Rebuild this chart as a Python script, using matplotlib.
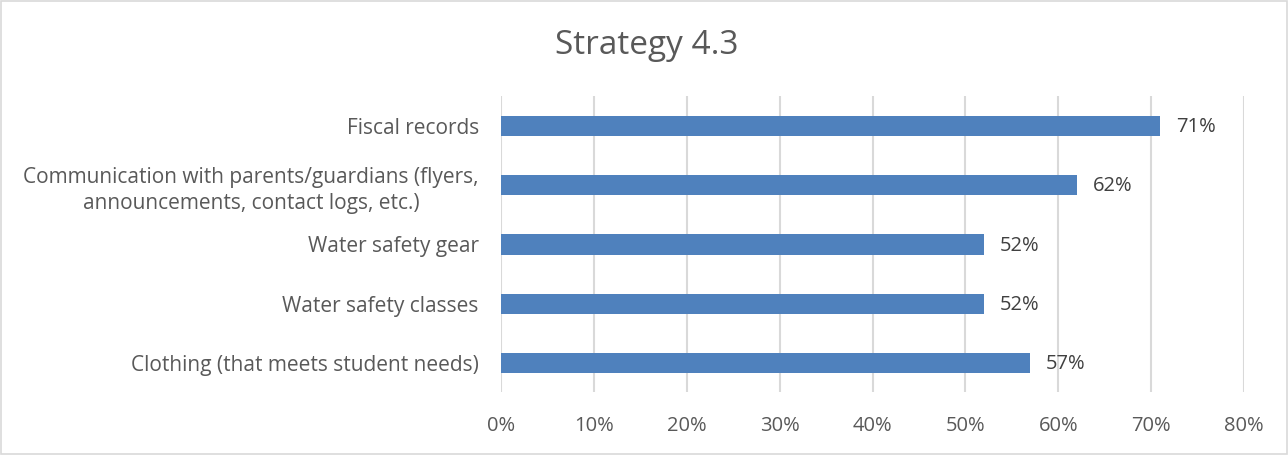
import numpy as np
import matplotlib.pyplot as plt
from matplotlib.patches import Rectangle

plt.rcParams['font.family'] = ['Open Sans', 'DejaVu Sans']

# data (top to bottom as shown)
categories = ['Fiscal records',
              'Communication with parents/guardians (flyers,\nannouncements, contact logs, etc.)',
              'Water safety gear',
              'Water safety classes',
              'Clothing (that meets student needs)']
values = [71, 62, 52, 52, 57]
xticks = [0, 10, 20, 30, 40, 50, 60, 70, 80]

txt = '#595959'
grid = '#D9D9D9'
bar_col = '#4F81BD'

fig = plt.figure(figsize=(12.88, 4.55), dpi=100)
ax = fig.add_axes([0.389, 0.1374, 0.5769, 0.6506])

y = np.arange(len(categories))[::-1]
ax.barh(y, values, height=0.34, color=bar_col, zorder=3)

for yi, v in zip(y, values):
    ax.text(v + 1.7, yi - 0.02, f'{v}%', va='center', ha='left',
            fontsize=14.5, color='#404040')

ax.set_xlim(0, 80)
ax.set_ylim(-0.5, len(categories) - 0.5)
ax.set_xticks(xticks)
ax.set_xticklabels([f'{t}%' for t in xticks])
ax.set_yticks(y)
ax.set_yticklabels(categories, multialignment='center', linespacing=1.3)
ax.tick_params(axis='x', length=0, labelsize=14.5, colors=txt, pad=17)
ax.tick_params(axis='y', length=0, labelsize=15, colors=txt, pad=16)
ax.xaxis.grid(True, color=grid, linewidth=1.5, zorder=0)
for s in ax.spines.values():
    s.set_visible(False)

fig.text(0.5025, 0.9, 'Strategy 4.3', ha='center', va='center',
         fontsize=24, color=txt)

fig.patches.append(Rectangle((0.001, 0.003), 0.998, 0.994, transform=fig.transFigure,
                             fill=False, edgecolor=grid, linewidth=1.2))

plt.savefig('out.png', dpi=100)
